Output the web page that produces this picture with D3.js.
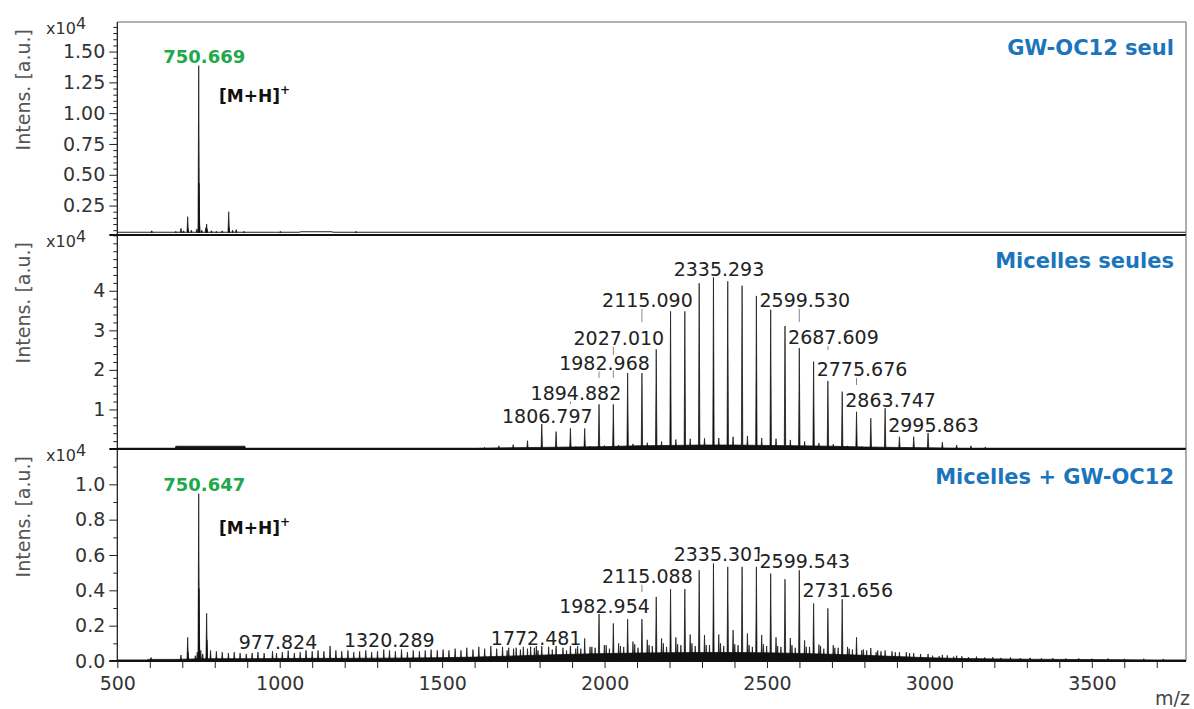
<!DOCTYPE html>
<html><head><meta charset="utf-8">
<script src="https://cdn.jsdelivr.net/npm/d3@7"></script>
<style>
body{margin:0;background:#fff;}
svg{display:block;font-family:"DejaVu Sans",sans-serif;}
</style></head><body>
<svg id="chart" width="1194" height="709"></svg>
<script>
// ---------------- DATA ----------------
const xTickValues = [500, 1000, 1500, 2000, 2500, 3000, 3500];
const xAxisTitle = "m/z";
const yAxisTitle = "Intens. [a.u.]";
const panelTitles = ["GW-OC12 seul", "Micelles seules", "Micelles + GW-OC12"];

const yTicksTop = [0.25, 0.50, 0.75, 1.00, 1.25, 1.50];
const yTickLabelsTop = ["0.25", "0.50", "0.75", "1.00", "1.25", "1.50"];
const yTicksMid = [1, 2, 3, 4];
const yTickLabelsMid = ["1", "2", "3", "4"];
const yTicksBot = [0.0, 0.2, 0.4, 0.6, 0.8, 1.0];
const yTickLabelsBot = ["0.0", "0.2", "0.4", "0.6", "0.8", "1.0"];

// Panel 1 : GW-OC12 seul (x10^4)
const topMz  = [606, 680, 696, 704, 716.7, 717.7, 728, 745, 750.67, 751.67, 752.67, 760, 772.6, 775, 776, 790, 805, 823, 843, 844, 855, 866, 890, 1002, 1235];
const topInt = [0.045, 0.04, 0.065, 0.045, 0.16, 0.06, 0.05, 0.06, 1.386, 0.43, 0.12, 0.05, 0.07, 0.10, 0.06, 0.045, 0.04, 0.045, 0.20, 0.07, 0.05, 0.055, 0.04, 0.04, 0.04];
const topBaseMz  = [500, 1060, 1065, 1160, 1165, 3790];
const topBaseInt = [0.033, 0.033, 0.037, 0.037, 0.033, 0.033];

// Panel 2 : Micelles seules (x10^4)
const midMz  = [1630.6, 1674.7, 1718.7, 1762.8, 1806.8, 1850.8, 1894.9, 1938.9, 1983.0, 2027.0, 2071.1, 2115.1, 2159.1, 2203.2, 2247.2, 2291.3, 2335.3, 2379.3, 2423.4, 2467.4, 2511.5, 2555.5, 2599.5, 2643.6, 2687.6, 2731.6, 2775.7, 2819.7, 2863.7, 2907.8, 2951.8, 2995.9, 3039.9, 3083.9, 3128.0, 3172.0];
const midInt = [0.04, 0.08, 0.11, 0.21, 0.65, 0.44, 0.52, 0.52, 1.13, 1.13, 1.92, 1.92, 2.52, 3.48, 3.48, 4.19, 4.34, 4.24, 4.13, 3.87, 3.52, 3.11, 2.55, 2.21, 1.72, 1.45, 0.94, 0.78, 1.03, 0.31, 0.31, 0.41, 0.17, 0.10, 0.08, 0.05];
const midBMz  = [1823.2, 1867.2, 1911.3, 1955.3, 1999.4, 2043.4, 2087.5, 2131.5, 2175.5, 2219.6, 2263.6, 2307.7, 2351.7, 2395.7, 2439.8, 2483.8, 2527.9, 2571.9, 2615.9, 2660.0, 2704.0, 2748.0, 2792.1, 2836.1, 2880.2, 2924.2];
const midBInt = [0.04, 0.05, 0.06, 0.07, 0.09, 0.10, 0.13, 0.16, 0.19, 0.24, 0.26, 0.27, 0.28, 0.31, 0.33, 0.28, 0.26, 0.23, 0.19, 0.15, 0.12, 0.08, 0.06, 0.05, 0.04, 0.03];
const midBaseMz  = [500, 679, 680, 893, 894, 1600, 1700, 1800, 1900, 2000, 2100, 2200, 2300, 2400, 2500, 2600, 2700, 2800, 2900, 3000, 3100, 3200, 3790];
const midBaseInt = [0.02, 0.02, 0.07, 0.07, 0.02, 0.02, 0.03, 0.04, 0.05, 0.06, 0.08, 0.09, 0.10, 0.10, 0.09, 0.08, 0.07, 0.05, 0.04, 0.03, 0.02, 0.02, 0.02];

// Panel 3 : Micelles + GW-OC12 (x10^4)
const botGwMz  = [604, 696, 716.7, 717.7, 740, 746, 750.65, 751.65, 752.65, 757, 763, 775.0, 776.0];
const botGwInt = [0.02, 0.034, 0.134, 0.05, 0.03, 0.05, 0.947, 0.41, 0.10, 0.06, 0.04, 0.27, 0.12];
const botLowMz  = [787, 805, 823, 842, 860, 878, 897, 915, 933, 952, 977.8, 990, 1008, 1026, 1045, 1063, 1081, 1100, 1118, 1136, 1155, 1173, 1191, 1210, 1228, 1246, 1265, 1283, 1301, 1320.3, 1338, 1356, 1375, 1393, 1411, 1430, 1448, 1466, 1485, 1503, 1521, 1540, 1558, 1576, 1595, 1613, 1631, 1650, 1668, 1686, 1705, 1728, 1750, 1772.5, 1790];
const botLowInt = [0.06, 0.055, 0.05, 0.045, 0.05, 0.045, 0.04, 0.045, 0.05, 0.045, 0.055, 0.045, 0.05, 0.06, 0.045, 0.05, 0.065, 0.055, 0.06, 0.055, 0.085, 0.06, 0.055, 0.06, 0.05, 0.055, 0.06, 0.05, 0.055, 0.065, 0.06, 0.055, 0.065, 0.05, 0.06, 0.055, 0.06, 0.065, 0.06, 0.065, 0.06, 0.07, 0.06, 0.075, 0.065, 0.08, 0.07, 0.085, 0.07, 0.08, 0.075, 0.075, 0.08, 0.081, 0.085];
const botMainMz  = [1762.8, 1806.8, 1850.8, 1894.9, 1938.9, 1983.0, 2027.0, 2071.1, 2115.1, 2159.1, 2203.2, 2247.2, 2291.3, 2335.3, 2379.3, 2423.4, 2467.4, 2511.5, 2555.5, 2599.5, 2643.6, 2687.6, 2731.6, 2775.7, 2819.7, 2863.7, 2907.8, 2951.8, 2995.9, 3039.9, 3083.9];
const botMainInt = [0.07, 0.085, 0.09, 0.10, 0.128, 0.266, 0.213, 0.237, 0.237, 0.363, 0.407, 0.407, 0.514, 0.552, 0.533, 0.533, 0.533, 0.495, 0.463, 0.514, 0.326, 0.298, 0.350, 0.134, 0.073, 0.06, 0.05, 0.045, 0.04, 0.035, 0.03];
const botBMz  = [1911.3, 1955.3, 1999.4, 2043.4, 2087.5, 2131.5, 2175.5, 2219.6, 2263.6, 2307.7, 2351.7, 2395.7, 2439.8, 2483.8, 2527.9, 2571.9, 2615.9, 2660.0, 2704.0, 2748.0, 2792.1, 2836.1];
const botBInt = [0.07, 0.08, 0.09, 0.10, 0.11, 0.12, 0.128, 0.134, 0.15, 0.147, 0.15, 0.175, 0.156, 0.147, 0.134, 0.13, 0.117, 0.093, 0.09, 0.08, 0.062, 0.05];
const botCMz  = [1700, 1720, 1741, 1784, 1828, 1872, 1917, 1961, 2005, 2049, 2093, 2137, 2181, 2225, 2269, 2313, 2357, 2401, 2445, 2489, 2533, 2577, 2621, 2665, 2709, 2753, 2797, 2841, 2885, 2929, 2973];
const botCInt = [0.06, 0.07, 0.065, 0.075, 0.08, 0.075, 0.085, 0.08, 0.09, 0.085, 0.095, 0.09, 0.10, 0.095, 0.10, 0.09, 0.10, 0.095, 0.09, 0.095, 0.085, 0.09, 0.08, 0.085, 0.075, 0.07, 0.065, 0.06, 0.055, 0.05, 0.04];
const botDMz  = [1795, 1839, 1883, 1927, 1971, 2015, 2059, 2103, 2147, 2191, 2235, 2279, 2323, 2367, 2411, 2455, 2499, 2543, 2587, 2631, 2675, 2719, 2763, 2807, 2851, 2895, 2939];
const botDInt = [0.06, 0.065, 0.06, 0.07, 0.075, 0.07, 0.08, 0.075, 0.085, 0.08, 0.09, 0.085, 0.09, 0.085, 0.09, 0.08, 0.085, 0.08, 0.075, 0.08, 0.07, 0.075, 0.065, 0.06, 0.055, 0.05, 0.045];
const botTailMz  = [3010, 3030, 3055, 3075, 3100, 3120, 3145, 3170, 3195, 3220, 3250, 3280, 3310, 3345, 3380, 3420, 3460, 3500, 3550, 3600, 3660, 3720];
const botTailInt = [0.03, 0.028, 0.032, 0.025, 0.027, 0.022, 0.025, 0.02, 0.022, 0.018, 0.02, 0.016, 0.018, 0.015, 0.016, 0.014, 0.015, 0.013, 0.014, 0.012, 0.013, 0.012];
const botBaseMz  = [500, 590, 595, 680, 700, 740, 800, 900, 1000, 1100, 1200, 1300, 1400, 1500, 1600, 1700, 1800, 1900, 2000, 2100, 2200, 2300, 2400, 2500, 2600, 2700, 2800, 2900, 3000, 3100, 3200, 3300, 3400, 3500, 3600, 3700, 3790];
const botBaseInt = [0.006, 0.006, 0.009, 0.009, 0.01, 0.012, 0.013, 0.013, 0.014, 0.015, 0.015, 0.016, 0.017, 0.019, 0.022, 0.027, 0.033, 0.038, 0.042, 0.045, 0.047, 0.048, 0.048, 0.046, 0.043, 0.038, 0.032, 0.025, 0.018, 0.014, 0.012, 0.01, 0.009, 0.008, 0.007, 0.006, 0.006];

// Peak annotations
const topLabelMz = [750.669];
const midLabelMz = [1806.797, 1894.882, 1982.968, 2027.010, 2115.090, 2335.293, 2599.530, 2687.609, 2775.676, 2863.747, 2995.863];
const botLabelMz = [750.647, 977.824, 1320.289, 1772.481, 1982.954, 2115.088, 2335.301, 2599.543, 2731.656];
const ionLabel = "[M+H]";

// ---------------- LAYOUT ----------------
const svg = d3.select("#chart");
const L = 117.3, R = 1186;
const x = d3.scaleLinear().domain([500, 3790]).range([L, R]);
const INK = "#222", AX = "#333";

const panels = [
  {top: 22,  bottom: 235, domain: [0.011, 1.74], ticks: yTicksTop, labels: yTickLabelsTop, minor: d3.range(0.05, 1.72, 0.05)},
  {top: 235, bottom: 449, domain: [0, 5.41], ticks: yTicksMid, labels: yTickLabelsMid, minor: d3.range(0.2, 5.41, 0.2)},
  {top: 449, bottom: 661, domain: [0, 1.2], ticks: yTicksBot, labels: yTickLabelsBot, minor: d3.range(0.1, 1.2, 0.1)}
];
panels.forEach(p => { p.y = d3.scaleLinear().domain(p.domain).range([p.bottom, p.top]); });

const defs = svg.append("defs");
panels.forEach((p, i) => {
  defs.append("clipPath").attr("id", "clip" + i)
    .append("rect").attr("x", L).attr("y", p.top).attr("width", R - L).attr("height", p.bottom - p.top);
});

const HW = 2.2; // peak half width in Da
function drawBase(g, y, mz, it, filled) {
  const pts = mz.map((m, i) => [m, it[i]]);
  if (filled) {
    g.append("path").datum(pts)
      .attr("d", d3.area().x(d => x(d[0])).y0(y.range()[0]).y1(d => y(d[1])))
      .attr("fill", "#111").attr("stroke", "#111").attr("stroke-width", 0.8);
  } else {
    g.append("path").datum(pts)
      .attr("d", d3.line().x(d => x(d[0])).y(d => y(d[1])))
      .attr("fill", "none").attr("stroke", "#222").attr("stroke-width", 1.1);
  }
}
function drawPeaks(g, y, mz, it, floor) {
  const base = floor !== undefined ? floor : y.domain()[0];
  g.selectAll(null).data(mz.map((m, i) => [m, it[i]])).enter().append("path")
    .attr("d", d => {
      const b = y(base);
      return `M${x(d[0] - HW)},${b}L${x(d[0])},${y(d[1])}L${x(d[0] + HW)},${b}Z`;
    })
    .attr("fill", "#111").attr("stroke", "#111").attr("stroke-width", 0.7).attr("stroke-linejoin", "miter");
}

const gp = panels.map((p, i) => svg.append("g").attr("clip-path", `url(#clip${i})`));

// Panel 1
drawBase(gp[0], panels[0].y, topBaseMz, topBaseInt, false);
drawPeaks(gp[0], panels[0].y, topMz, topInt, topBaseInt[0]);
// Panel 2
drawBase(gp[1], panels[1].y, midBaseMz, midBaseInt, true);
drawPeaks(gp[1], panels[1].y, midBMz, midBInt);
drawPeaks(gp[1], panels[1].y, midMz, midInt);
// Panel 3
drawBase(gp[2], panels[2].y, botBaseMz, botBaseInt, true);
drawPeaks(gp[2], panels[2].y, botLowMz, botLowInt);
drawPeaks(gp[2], panels[2].y, botCMz, botCInt);
drawPeaks(gp[2], panels[2].y, botDMz, botDInt);
drawPeaks(gp[2], panels[2].y, botTailMz, botTailInt);
drawPeaks(gp[2], panels[2].y, botBMz, botBInt);
drawPeaks(gp[2], panels[2].y, botGwMz, botGwInt);
drawPeaks(gp[2], panels[2].y, botMainMz, botMainInt);

// ---- frames ----
panels.forEach((p, i) => {
  if (i === 0) svg.append("line").attr("x1", L).attr("x2", R).attr("y1", p.top).attr("y2", p.top)
    .attr("stroke", "#666").attr("stroke-width", 1.2);
  svg.append("line").attr("x1", R).attr("x2", R).attr("y1", p.top).attr("y2", p.bottom)
    .attr("stroke", "#777").attr("stroke-width", 1.2);
  svg.append("line").attr("x1", L).attr("x2", L).attr("y1", p.top).attr("y2", p.bottom)
    .attr("stroke", "#111").attr("stroke-width", 1.2);
  svg.append("line").attr("x1", L - 8).attr("x2", R).attr("y1", p.bottom).attr("y2", p.bottom)
    .attr("stroke", "#111").attr("stroke-width", 2.2);
});

// ---- y axes ----
panels.forEach((p, i) => {
  const minorVals = p.minor.filter(v => !p.ticks.some(t => Math.abs(t - v) < 1e-6) && v > p.domain[0] + 1e-6 && v < p.domain[1]);
  const gMinor = svg.append("g").attr("transform", `translate(${L},0)`)
    .call(d3.axisLeft(p.y).tickValues(minorVals).tickSize(4).tickFormat(""));
  gMinor.select(".domain").remove();
  gMinor.selectAll("line").attr("stroke", "#222").attr("stroke-width", 1);
  const gMaj = svg.append("g").attr("transform", `translate(${L},0)`)
    .call(d3.axisLeft(p.y).tickValues(p.ticks).tickSize(8).tickPadding(4).tickFormat((d, k) => p.labels[k]));
  gMaj.select(".domain").remove();
  gMaj.selectAll("line").attr("stroke", "#222").attr("stroke-width", 1);
  gMaj.selectAll("text").attr("font-size", 19).attr("fill", AX).attr("font-family", "DejaVu Sans");

  svg.append("text").attr("x", 46).attr("y", p.top + 12).attr("font-size", 16).attr("fill", AX).text("x10");
  svg.append("text").attr("x", 76).attr("y", p.top + 7).attr("font-size", 16).attr("fill", AX).text("4");

  svg.append("text").attr("transform", `translate(30,${p.top + 7}) rotate(-90)`)
    .attr("text-anchor", "end").attr("font-size", 19).attr("fill", "#555").text(yAxisTitle);

  svg.append("text").attr("x", 1174).attr("y", [55, 268, 484][i]).attr("text-anchor", "end")
    .attr("font-size", 21).attr("font-weight", "bold").attr("fill", "#1b75bc").text(panelTitles[i]);
});

// ---- x axis ----
const gx = svg.append("g").attr("transform", `translate(0,${panels[2].bottom})`)
  .call(d3.axisBottom(x).tickValues(d3.range(500, 3701, 100)).tickSize(7).tickPadding(9)
    .tickFormat(d => xTickValues.includes(d) ? String(d) : ""));
gx.select(".domain").remove();
gx.selectAll("line").attr("stroke", "#222").attr("stroke-width", 1);
gx.selectAll("text").attr("font-size", 19).attr("fill", AX).attr("font-family", "DejaVu Sans");
svg.append("text").attr("x", 1190).attr("y", 705).attr("text-anchor", "end")
  .attr("font-size", 19).attr("fill", "#444").text(xAxisTitle);

// ---- annotations ----
const DX = 5.5;
function label(mz, txt, baseY, leaderEnd, opts = {}) {
  const cx = x(mz) + DX;
  if (leaderEnd) {
    svg.insert("line", ":scope > g.lbl").attr("x1", x(mz)).attr("x2", x(mz)).attr("y1", baseY + 2).attr("y2", leaderEnd)
      .attr("stroke", "#888").attr("stroke-width", 1);
  }
  const g = svg.append("g").attr("class", "lbl");
  const t = g.append("text").attr("x", cx).attr("y", baseY).attr("text-anchor", "middle")
    .attr("font-size", opts.size || 19).attr("font-weight", opts.bold ? "bold" : "normal")
    .attr("fill", opts.color || INK).text(txt);
  if (opts.bg) {
    const bb = t.node().getBBox();
    g.insert("rect", "text").attr("x", bb.x).attr("y", baseY - 14.5).attr("width", bb.width).attr("height", 15.5).attr("fill", "#fff");
  }
}
label(topLabelMz[0], topLabelMz[0].toFixed(3), 62.5, null, {bold: true, size: 18, color: "#21a84a"});
const midLayout = [[423, null], [399.5, 404], [369.5, 378], [344.5, 378], [306.7, 322], [276, null], [306.7, 322], [344.3, 350], [376, 385], [406.7, null], [431.7, null]];
midLabelMz.forEach((m, k) => label(m, m.toFixed(3), midLayout[k][0], midLayout[k][1], {bg: true}));
label(botLabelMz[0], botLabelMz[0].toFixed(3), 491, null, {bold: true, size: 18, color: "#21a84a"});
const botLayout = [null, [649.3, null], [646.7, null], [645, null], [612.7, null], [582.7, 592], [560.7, null], [567.7, null], [597.3, null]];
botLabelMz.forEach((m, k) => { if (k > 0) label(m, m.toFixed(3), botLayout[k][0], botLayout[k][1], {bg: true}); });

[101.5, 534].forEach(by => {
  const t = svg.append("text").attr("x", 219).attr("y", by).attr("font-size", 17).attr("font-weight", "bold").attr("fill", "#111");
  t.append("tspan").text(ionLabel);
  t.append("tspan").attr("dy", -8).attr("font-size", 12).text("+");
});
</script>
</body></html>
